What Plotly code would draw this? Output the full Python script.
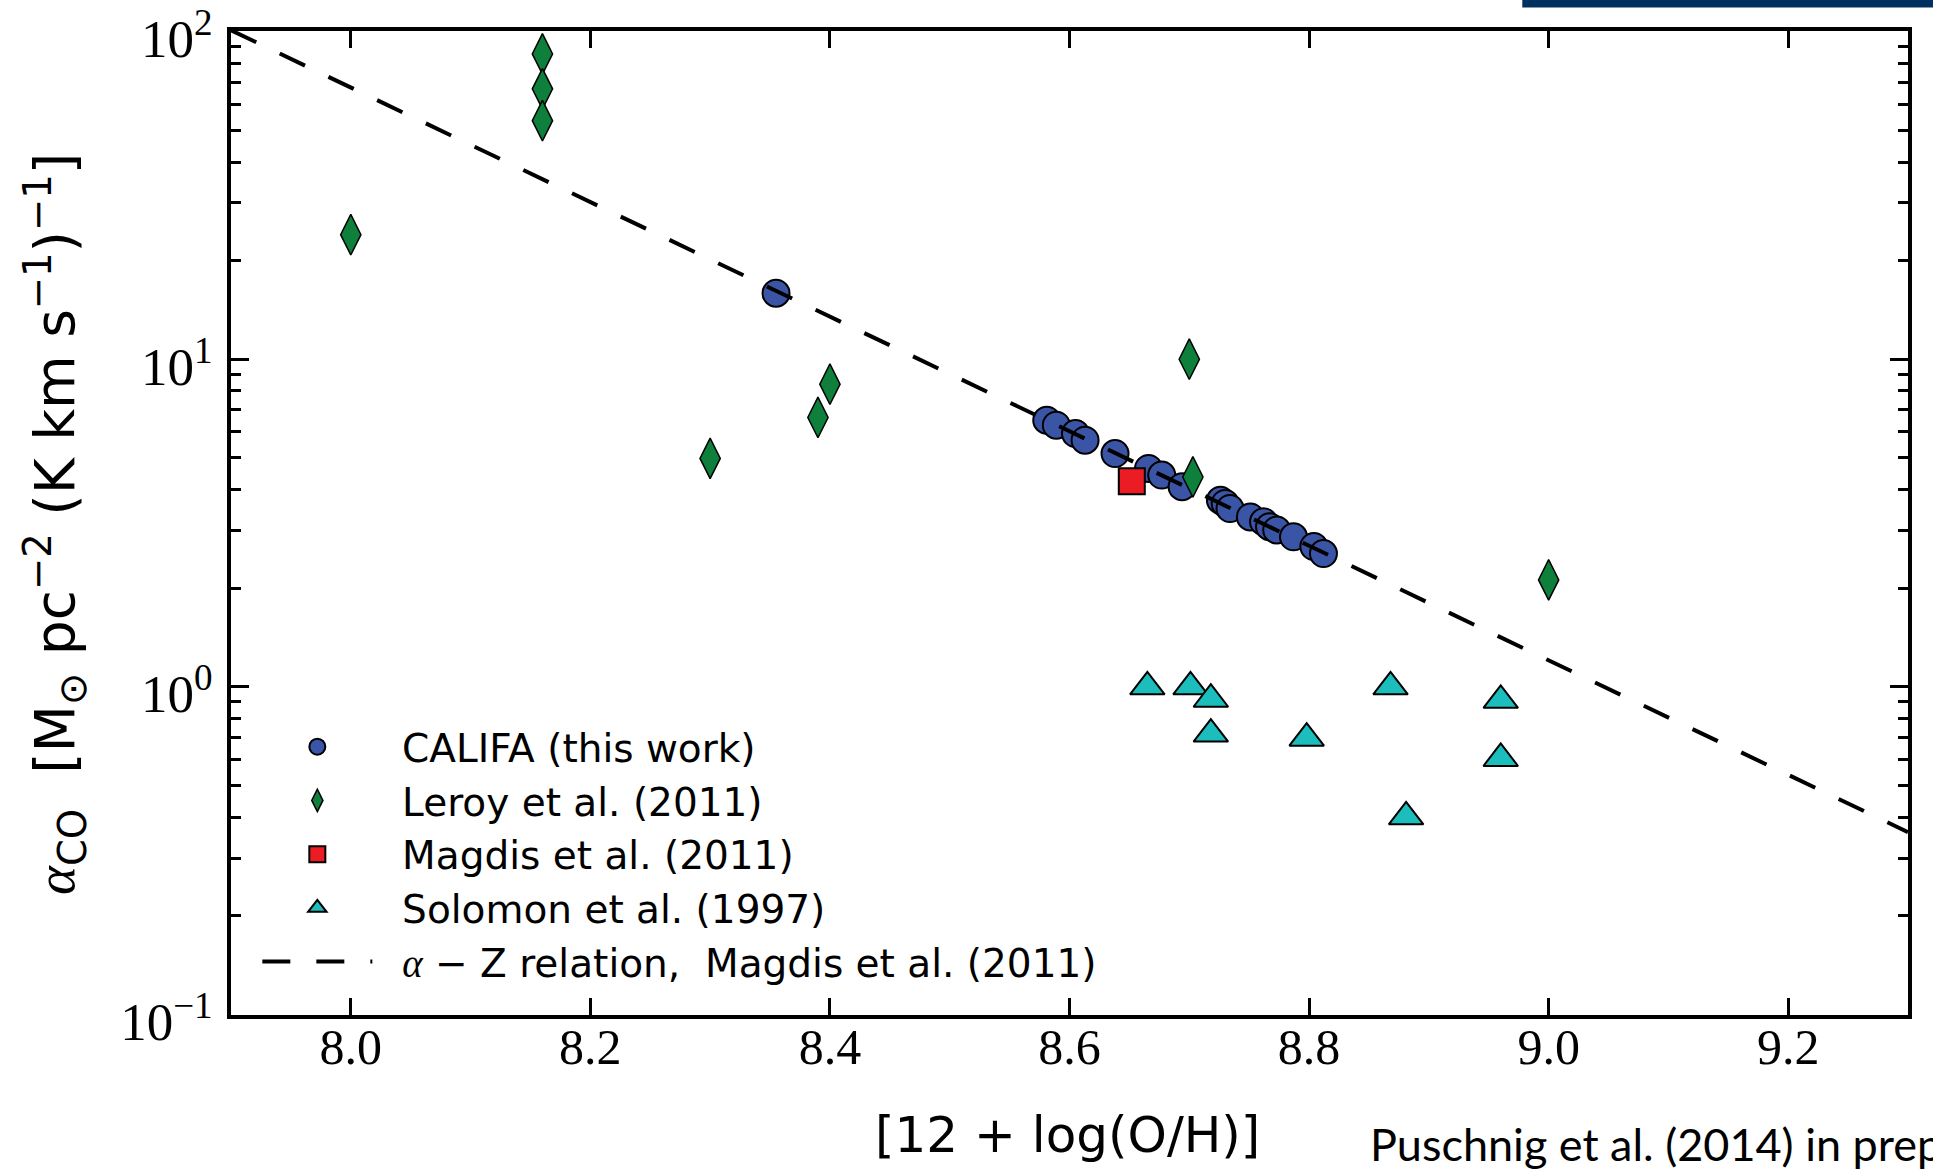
import plotly.graph_objects as go

# CALIFA (this work): metallicity 12+log(O/H) and alpha_CO
califa_z = [8.355, 8.581, 8.589, 8.605, 8.613, 8.638, 8.666, 8.677, 8.694, 8.726,
            8.730, 8.734, 8.751, 8.762, 8.767, 8.773, 8.787, 8.804, 8.812]
califa_alpha = [15.9, 6.51, 6.29, 5.93, 5.66, 5.15, 4.64, 4.43, 4.08, 3.71,
                3.63, 3.50, 3.30, 3.19, 3.08, 3.01, 2.87, 2.68, 2.55]

# Leroy et al. (2011)
leroy_z = [8.00, 8.16, 8.16, 8.16, 8.30, 8.39, 8.40, 8.70, 8.703, 9.00]
leroy_alpha = [24.0, 85.5, 66.9, 53.5, 4.98, 6.64, 8.39, 10.0, 4.37, 2.12]

# Magdis et al. (2011)
magdis_z = [8.652]
magdis_alpha = [4.24]

# Solomon et al. (1997)
solomon_z = [8.665, 8.701, 8.718, 8.718, 8.798, 8.868, 8.881, 8.960, 8.960]
solomon_alpha = [1.0, 1.0, 0.916, 0.717, 0.697, 1.0, 0.401, 0.909, 0.604]

# alpha - Z relation (straight line in log space), end points
relation_z = [7.90, 9.30]
relation_alpha = [101.0, 0.36]

x_ticks = [8.0, 8.2, 8.4, 8.6, 8.8, 9.0, 9.2]
x_ticktext = ["8.0", "8.2", "8.4", "8.6", "8.8", "9.0", "9.2"]
y_ticks = [0.1, 1, 10, 100]
y_ticktext = ["10<sup>\u22121</sup>", "10<sup>0</sup>", "10<sup>1</sup>", "10<sup>2</sup>"]
y_minor = [m * 10.0 ** e for e in (-1, 0, 1) for m in range(2, 10)]

SERIF = "Liberation Serif"
SANS = "DejaVu Sans"
NB = "\u00a0"

fig = go.Figure()

fig.add_trace(go.Scatter(
    x=califa_z, y=califa_alpha, mode="markers", name=NB * 2 + "CALIFA (this work)",
    marker=dict(symbol="circle", size=27, color="#3a55a6",
                line=dict(color="black", width=2)),
))
fig.add_trace(go.Scatter(
    x=leroy_z, y=leroy_alpha, mode="markers", name=NB * 2 + "Leroy et al. (2011)",
    marker=dict(symbol="diamond-tall", size=29, color="#0f803c",
                line=dict(color="black", width=1.5)),
))
fig.add_trace(go.Scatter(
    x=magdis_z, y=magdis_alpha, mode="markers", name=NB * 2 + "Magdis et al. (2011)",
    marker=dict(symbol="square", size=26, color="#ec1c24",
                line=dict(color="black", width=2)),
))
fig.add_trace(go.Scatter(
    x=solomon_z, y=solomon_alpha, mode="markers", name=NB * 2 + "Solomon et al. (1997)",
    marker=dict(symbol="triangle-up", size=30, color="#1bbdbd",
                line=dict(color="black", width=2)),
))
fig.add_trace(go.Scatter(
    x=relation_z, y=relation_alpha, mode="lines",
    name=NB * 2 + "<span style=\"font-family:Liberation Serif\"><i>\u03b1</i></span>"
         " \u2212 Z relation," + NB * 2 + "Magdis et al. (2011)",
    line=dict(color="black", width=4, dash="28px,26px"),
))

fig.update_layout(
    width=1933, height=1175,
    margin=dict(l=231, r=25, t=31, b=160, autoexpand=False),
    paper_bgcolor="white", plot_bgcolor="white",
    showlegend=True,
    legend=dict(
        x=0.0157, y=0.305, xanchor="left", yanchor="top",
        bgcolor="rgba(0,0,0,0)", borderwidth=0,
        font=dict(family=SANS, size=39, color="black"),
        itemwidth=110, tracegroupgap=0,
    ),
    xaxis=dict(
        range=[7.9, 9.3], tickvals=x_ticks, ticktext=x_ticktext,
        ticks="inside", ticklen=17, tickwidth=3, tickcolor="black",
        showline=True, linewidth=3.5, linecolor="black", mirror="ticks",
        showgrid=False, zeroline=False, automargin=False,
        tickfont=dict(family=SERIF, size=50, color="black"),
        ticklabelstandoff=-15,
    ),
    yaxis=dict(
        type="log", range=[-1.002, 2.002], tickvals=y_ticks, ticktext=y_ticktext,
        ticks="inside", ticklen=18, tickwidth=3, tickcolor="black",
        showline=True, linewidth=3.5, linecolor="black", mirror="ticks",
        showgrid=False, zeroline=False, automargin=False,
        tickfont=dict(family=SERIF, size=53, color="black"),
        ticklabelstandoff=4, ticklabelshift=7, ticklabeloverflow="allow",
        minor=dict(tickvals=y_minor, ticks="inside", ticklen=10,
                   tickwidth=2.5, tickcolor="black", showgrid=False),
    ),
    annotations=[
        dict(text="[12 + log(O/H)]", xref="paper", yref="paper",
             x=0.499, y=-0.122, xanchor="center", yanchor="middle",
             showarrow=False, font=dict(family=SANS, size=50, color="black")),
        dict(text="<span style=\"font-family:Liberation Serif\"><i>\u03b1</i></span>"
                  "<sub>CO</sub>" + NB * 2 + "[M<sub>\u2299</sub> pc<sup>\u22122</sup> "
                  "(K km s<sup>\u22121</sup>)<sup>\u22121</sup>]",
             xref="paper", yref="paper", x=-0.105, y=0.499,
             xanchor="center", yanchor="middle", textangle=-90,
             showarrow=False, font=dict(family=SANS, size=55, color="black")),
        dict(text="Puschnig et al. (2014) in prep.", xref="paper", yref="paper",
             x=0.678, y=-0.1316, xanchor="left", yanchor="middle",
             showarrow=False, font=dict(family="Lato", size=45, color="black")),
    ],
    shapes=[
        dict(type="rect", xref="paper", yref="paper",
             x0=0.77, x1=1.02, y0=1.0239, y1=1.04,
             fillcolor="#003060", line=dict(width=0)),
    ],
)

fig.write_html("out.html")
